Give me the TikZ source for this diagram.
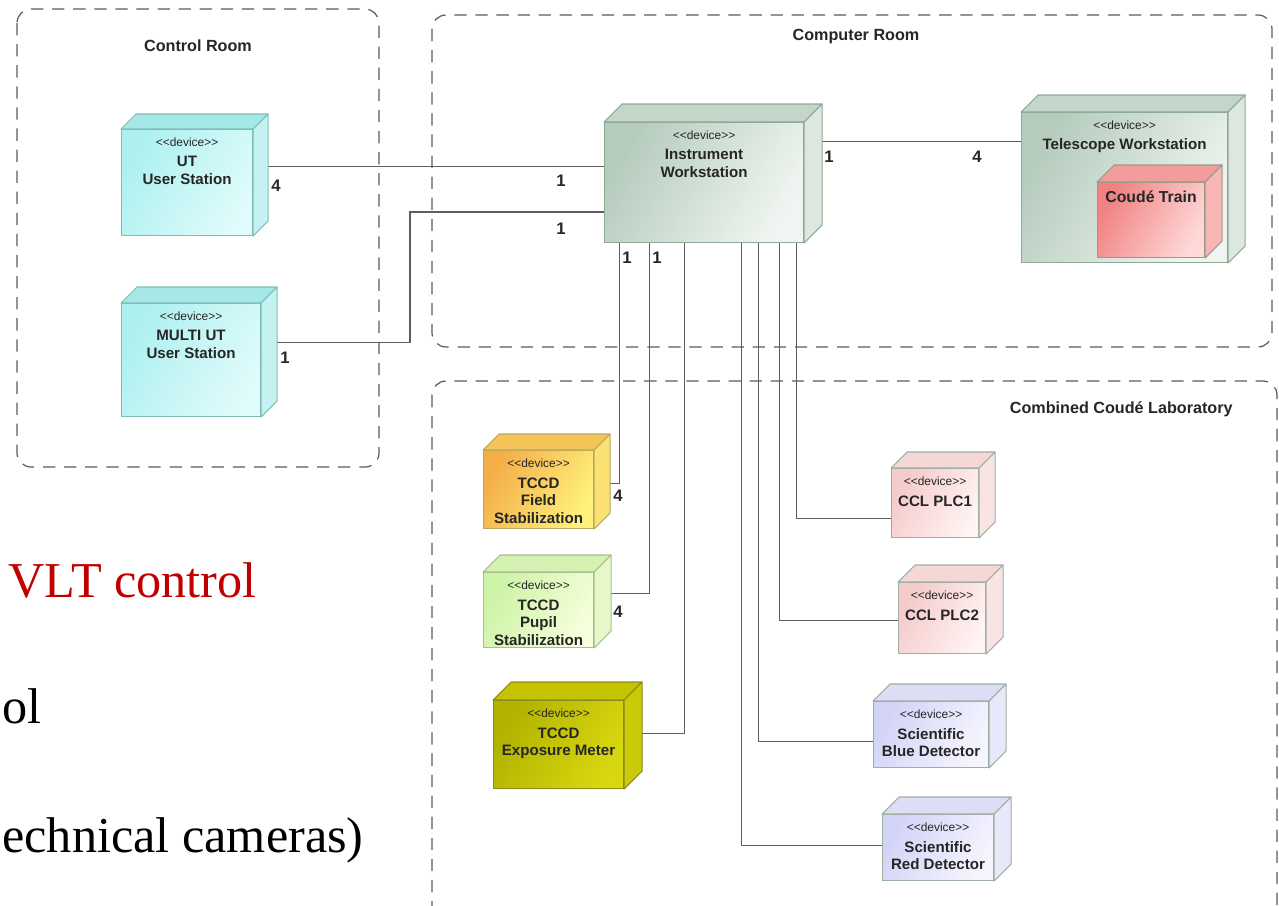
\documentclass[tikz,border=0pt]{standalone}
\usepackage{fontspec}
\setmainfont{Liberation Serif}
\setsansfont{Liberation Sans}
\usetikzlibrary{positioning,calc,backgrounds}

\definecolor{roomline}{HTML}{5A5A5A}
\definecolor{linkc}{HTML}{5E5E5E}
\definecolor{txt}{HTML}{262626}
\definecolor{slidered}{HTML}{C00000}
\definecolor{cyA}{HTML}{AEF0F0}\definecolor{cyB}{HTML}{E0FBFB}\definecolor{cyT}{HTML}{A6E8E8}\definecolor{cyS}{HTML}{C4F2F2}\definecolor{cyL}{HTML}{7DBDB5}
\definecolor{grA}{HTML}{B5CCBD}\definecolor{grB}{HTML}{F0F5F1}\definecolor{grT}{HTML}{C3D6C9}\definecolor{grS}{HTML}{DCE7DF}\definecolor{grL}{HTML}{8DAA96}
\definecolor{rdA}{HTML}{F08282}\definecolor{rdB}{HTML}{FFD8D8}\definecolor{rdT}{HTML}{F29C9C}\definecolor{rdS}{HTML}{F7B5B5}\definecolor{rdL}{HTML}{9A9A88}
\definecolor{orA}{HTML}{F4AE48}\definecolor{orB}{HTML}{FFF27C}\definecolor{orT}{HTML}{F6C456}\definecolor{orS}{HTML}{FCE172}\definecolor{orL}{HTML}{B8A860}
\definecolor{lgA}{HTML}{CDF3A6}\definecolor{lgB}{HTML}{F6FFDC}\definecolor{lgT}{HTML}{D6F2B2}\definecolor{lgS}{HTML}{E6F7C8}\definecolor{lgL}{HTML}{A5C090}
\definecolor{olA}{HTML}{B2B200}\definecolor{olB}{HTML}{D8D810}\definecolor{olT}{HTML}{C4C400}\definecolor{olS}{HTML}{CACA08}\definecolor{olL}{HTML}{8A8A20}
\definecolor{pkA}{HTML}{F5CACA}\definecolor{pkB}{HTML}{FFF3F3}\definecolor{pkT}{HTML}{F6D7D7}\definecolor{pkS}{HTML}{FAE3E3}\definecolor{pkL}{HTML}{9DB0A0}
\definecolor{lvA}{HTML}{D3D3F6}\definecolor{lvB}{HTML}{F5F5FF}\definecolor{lvT}{HTML}{DDDDF6}\definecolor{lvS}{HTML}{E8E8FA}\definecolor{lvL}{HTML}{9DB0A0}

\tikzset{
  room/.style={draw=roomline, line width=0.7pt, dash pattern=on 7pt off 5pt, rounded corners=8pt},
  roomname/.style={font=\sffamily\bfseries\fontsize{9.2}{11}\selectfont, text=txt, inner sep=0},
  face/.style={rectangle, line width=0.6pt, inner sep=0, anchor=north west},
  devtext/.style={font=\sffamily\bfseries\fontsize{8.6}{10}\selectfont, text=txt, align=center, inner sep=0},
  link/.style={draw=linkc, line width=0.6pt},
  mult/.style={font=\sffamily\bfseries\fontsize{9.5}{11}\selectfont, text=txt, inner sep=0},
  slide/.style={font=\fontsize{28.6}{34}\selectfont, inner sep=0}
}

\newcommand\stereo{{\fontsize{6.8}{8}\selectfont\mdseries <{}<device>{}>}\\[1.5pt]}

% name, corner, width, height, depth, palette, text
\newcommand\devbox[7]{%
  \node[face, draw=#6L, minimum width=#3*0.02cm, minimum height=#4*0.02cm,
        left color=#6A, right color=#6B, shading angle=60] (#1) at #2 {};
  \filldraw[draw=#6L, fill=#6T, line width=0.6pt, line join=round]
    (#1.north west) -- ++(#5,-#5) -- ($(#1.north east)+(#5,-#5)$) -- (#1.north east) -- cycle;
  \filldraw[draw=#6L, fill=#6S, line width=0.6pt, line join=round]
    (#1.north east) -- ++(#5,-#5) -- ($(#1.south east)+(#5,-#5)$) -- (#1.south east) -- cycle;
  \node[devtext, below=5pt of #1.north] (#1-t) {#7};
}

\begin{document}
\begin{tikzpicture}[x=0.02cm, y=-0.02cm]
  \useasboundingbox (0,0) rectangle (1279,906);
  \clip (0,0) rectangle (1279,906);

  \node[slide, text=slidered, anchor=base east] (vlt) at (257,597) {VLT control};
  \node[slide, anchor=base west] (ctl) at (2,723) {ol};
  \node[slide, anchor=base west] (cams) at (2,852) {echnical cameras)};

  \node[roomname] (croom) at (198,46) {Control Room};
  \node[roomname] (proom) at (856,37) {Computer Room};
  \node[roomname, anchor=east] (lab) at (1233,409) {Combined Coudé Laboratory};

  \devbox{ut}{(121,129)}{131}{106}{15}{cy}{\stereo UT\\User Station}
  \devbox{multi}{(121,303)}{139}{113}{16}{cy}{\stereo MULTI UT\\User Station}
  \devbox{instr}{(604,122)}{199}{120}{18}{gr}{\stereo Instrument\\Workstation}
  \devbox{tele}{(1021,112)}{206}{150}{17}{gr}{\stereo Telescope Workstation}
  \devbox{coude}{(1097,182)}{107}{75}{17}{rd}{\fontsize{9}{10}\selectfont Coudé Train}
  \devbox{field}{(483,450)}{110}{78}{16}{or}{\stereo TCCD\\Field\\Stabilization}
  \devbox{pupil}{(483,572)}{110}{75}{17}{lg}{\stereo TCCD\\Pupil\\Stabilization}
  \devbox{expo}{(493,700)}{130}{88}{18}{ol}{\stereo TCCD\\Exposure Meter}
  \devbox{plc1}{(891,468)}{87}{69}{16}{pk}{\stereo CCL PLC1}
  \devbox{plc2}{(898,582)}{87}{71}{17}{pk}{\stereo CCL PLC2}
  \devbox{blue}{(873,701)}{115}{66}{17}{lv}{\stereo Scientific\\Blue Detector}
  \devbox{red}{(882,814)}{111}{66}{17}{lv}{\stereo Scientific\\Red Detector}

  \begin{pgfonlayer}{background}
    \draw[room] (17,9) rectangle (379,467);
    \draw[room] (432,15) rectangle (1272,347);
    \draw[room] (432,381) rectangle (1277,940);

    \draw[link] (ut.east) ++(0,-16) coordinate (p1) -- (p1 -| instr.west);
    \coordinate (bend) at (410,212);
    \draw[link] ($(multi.east)+(0,-17.5)$) -| (bend) -- (bend -| instr.west);
    \draw[link] (instr.east) ++(0,-41) coordinate (p2) -- (p2 -| tele.west);
    \draw[link] (instr.south) ++(-85,0) |- ($(field.east)+(0,-6)$);
    \draw[link] (instr.south) ++(-55,0) |- ($(pupil.east)+(0,-16.5)$);
    \draw[link] (instr.south) ++(-20,0) |- ($(expo.east)+(0,-11)$);
    \draw[link] (instr.south) ++(37,0) |- ($(red.west)+(0,-2)$);
    \draw[link] (instr.south) ++(54,0) |- ($(blue.west)+(0,7)$);
    \draw[link] (instr.south) ++(75,0) |- ($(plc2.west)+(0,2.5)$);
    \draw[link] (instr.south) ++(92,0) |- ($(plc1.west)+(0,15.5)$);
  \end{pgfonlayer}

  \node[mult] (m1) at (276,186) {4};
  \node[mult] (m2) at (561,181) {1};
  \node[mult] (m3) at (285,358) {1};
  \node[mult] (m4) at (561,229) {1};
  \node[mult] (m5) at (829,157) {1};
  \node[mult] (m6) at (977,157) {4};
  \node[mult] (m7) at (627,258) {1};
  \node[mult] (m8) at (657,258) {1};
  \node[mult] (m9) at (618,496) {4};
  \node[mult] (m10) at (618,612) {4};
\end{tikzpicture}
\end{document}
